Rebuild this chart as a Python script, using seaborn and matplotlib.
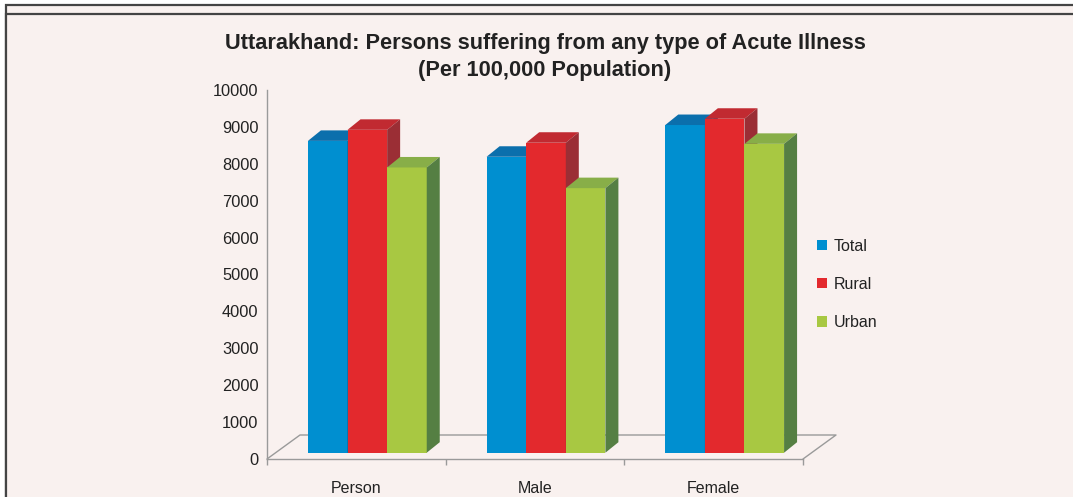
import numpy as np
import pandas as pd
import matplotlib
matplotlib.use("Agg")
import matplotlib.pyplot as plt
import seaborn as sns
from matplotlib.patches import Polygon, Rectangle, Patch
from matplotlib.colors import to_rgb

# data (per 100,000 population)
areas = ["Person", "Male", "Female"]
sectors = ["Total", "Rural", "Urban"]
total = [8450, 8020, 8880]
rural = [8750, 8400, 9050]
urban = [7730, 7170, 8370]

front_cols = {"Total": "#008fd0", "Rural": "#e3292d", "Urban": "#a8c842"}
top_cols = {"Total": "#0b6fac", "Rural": "#c12a31", "Urban": "#88ae48"}
side_cols = {"Total": "#0a5c8e", "Rural": "#9b2e35", "Urban": "#557f43"}
BG = "#f9f1ef"
AXC = "#9a9a9a"
TXT = "#222222"

df = pd.DataFrame({
    "area": np.repeat(areas, 3),
    "sector": sectors * 3,
    "value": [v for trio in zip(total, rural, urban) for v in trio],
})

sns.set_style("white")
plt.rcParams["font.family"] = ["Liberation Sans", "DejaVu Sans"]

W, H = 1073, 497
fig = plt.figure(figsize=(W / 100, H / 100), dpi=100, facecolor="white")

# frames
fig.patches.append(Rectangle((6 / W, -0.1), 1.2, 1.1 - 5 / H, transform=fig.transFigure,
                             facecolor=BG, edgecolor="#444444", lw=1.6, zorder=-3))
fig.patches.append(Rectangle((6 / W, -0.1), 1.2, 1.1 - 14 / H, transform=fig.transFigure,
                             facecolor=BG, edgecolor="#444444", lw=1.6, zorder=-2))

ax = fig.add_axes([267 / W, (H - 459) / H, (803 - 267) / W, (459 - 90) / H])
ax.set_facecolor("none")

sns.barplot(data=df, x="area", y="value", hue="sector", hue_order=sectors,
            palette=front_cols, saturation=1, width=0.665, legend=False, ax=ax)

ax.set_xlim(-0.5, 2.5)
ax.set_ylim(0, 10000)

px_x = 3 / (803 - 267)        # data units per pixel (x)
px_y = 10000 / (459 - 90)     # data units per pixel (y)
shift_x, base = 11 * px_x, 6.3 * px_y
dx, dy = 13 * px_x, 10.5 * px_y

bars = sorted(ax.patches, key=lambda p: p.get_x())
for i, p in enumerate(bars):
    col = p.get_facecolor()
    key = min(front_cols, key=lambda k: np.sum((np.array(to_rgb(front_cols[k])) - np.array(col[:3])) ** 2))
    p.set_x(p.get_x() + shift_x)
    p.set_y(base)
    p.set_edgecolor("none")
    p.set_zorder(3 + i)
    x0, w, top = p.get_x(), p.get_width(), base + p.get_height()
    ax.add_patch(Polygon([(x0, top), (x0 + w, top), (x0 + w + dx, top + dy), (x0 + dx, top + dy)],
                         closed=True, facecolor=top_cols[key], edgecolor="none", zorder=3 + i))
    ax.add_patch(Polygon([(x0 + w, base), (x0 + w, top), (x0 + w + dx, top + dy), (x0 + w + dx, base + dy)],
                         closed=True, facecolor=side_cols[key], edgecolor="none", zorder=3 + i))

# floor
fx, fy = 33 * px_x, 24 * px_y
ax.plot([-0.5, -0.5 + fx, 2.5 + fx, 2.5], [0, fy, fy, 0], color=AXC, lw=1, zorder=1, clip_on=False)

sns.despine(ax=ax)
for s in ["left", "bottom"]:
    ax.spines[s].set_color(AXC)
    ax.spines[s].set_linewidth(1)

ax.set_yticks(np.arange(0, 10001, 1000))
ax.tick_params(axis="y", length=3.6, width=1, color=AXC, pad=2.5, labelsize=11.8, labelcolor=TXT)
ax.set_xticks(range(3))
ax.set_xticklabels(areas)
ax.set_xticks([-0.5, 0.5, 1.5, 2.5], minor=True)
ax.tick_params(axis="x", which="major", length=0, pad=16, labelsize=11.5, labelcolor=TXT)
ax.tick_params(axis="x", which="minor", length=4.3, width=1, color=AXC, bottom=True)
ax.set_xlabel("")
ax.set_ylabel("")

fig.text(545 / W, 1 - 43 / H, "Uttarakhand: Persons suffering from any type of Acute Illness",
         ha="center", va="center", fontsize=15.7, fontweight="bold", color=TXT)
fig.text(545 / W, 1 - 71 / H, "(Per 100,000 Population)",
         ha="center", va="center", fontsize=15.7, fontweight="bold", color=TXT)

handles = [Patch(facecolor=front_cols[s], edgecolor="none", label=s) for s in sectors]
fig.legend(handles=handles, loc="center left", bbox_to_anchor=(803 / W, 1 - 284.5 / H),
           frameon=False, handlelength=0.6, handleheight=0.6, handletextpad=0.4,
           labelspacing=1.45, fontsize=11.5, labelcolor=TXT)

fig.savefig("out.png", dpi=100, facecolor=fig.get_facecolor())
